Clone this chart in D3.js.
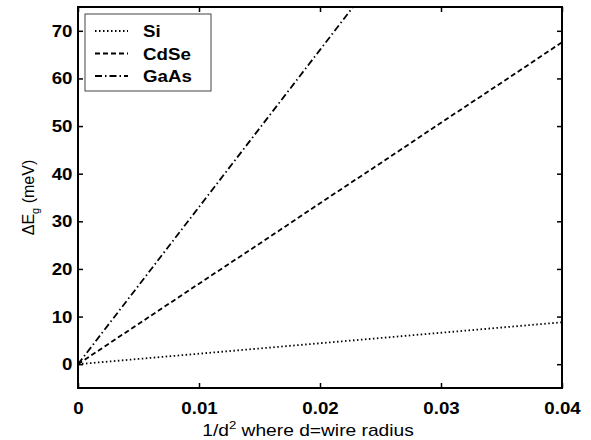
<!DOCTYPE html>
<html lang="en">
  <head>
    <meta charset="utf-8">
    <title>Band gap shift vs 1/d^2</title>
    <script src="https://d3js.org/d3.v7.min.js"></script>
    <style type="text/css">
      body, html {
        margin: 0;
        padding: 0;
        background: #fff;
        font-family: "Liberation Sans", Arial, sans-serif;
      }
      .tick text { font-weight: bold; font-size: 17px; }
    </style>
  </head>
  <body>
    <script type="text/javascript">
      var w = 591, h = 440;
      var margin = { top: 7, right: 29, bottom: 52, left: 78 };
      var width = w - margin.left - margin.right;
      var height = h - margin.top - margin.bottom;

      // data
      var xValues = [0, 0.005, 0.01, 0.015, 0.02, 0.025, 0.03, 0.035, 0.04];
      var siValues = [0, 1.1, 2.2, 3.3, 4.4, 5.5, 6.6, 7.7, 8.8];
      var cdseValues = [0, 8.45, 16.9, 25.3, 33.8, 42.2, 50.7, 59.1, 67.6];
      var gaasValues = [0, 16.5, 33, 49.5, 66, 82.5, 99, 115.5, 132];
      var seriesNames = ["Si", "CdSe", "GaAs"];
      var xTicks = [0, 0.01, 0.02, 0.03, 0.04];
      var yTicks = [0, 10, 20, 30, 40, 50, 60, 70];

      var dashes = ["1.5,2.5", "5,3", "7,3,1.5,3"];
      var allSeries = [siValues, cdseValues, gaasValues];

      var svg = d3.select("body").append("svg")
        .attr("width", w)
        .attr("height", h);

      var x = d3.scaleLinear().domain([0, 0.04]).range([0, width]);
      var y = d3.scaleLinear().domain([-5, 75]).range([height, 0]);

      var g = svg.append("g")
        .attr("transform", "translate(" + margin.left + "," + margin.top + ")");

      svg.append("defs").append("clipPath").attr("id", "clip")
        .append("rect").attr("width", width).attr("height", height);

      // lines
      var line = d3.line()
        .x(function(d, i) { return x(xValues[i]); })
        .y(function(d) { return y(d); });

      g.append("g").attr("clip-path", "url(#clip)")
        .selectAll("path")
        .data(allSeries)
        .enter()
        .append("path")
        .attr("d", line)
        .attr("fill", "none")
        .attr("stroke", "#000")
        .attr("stroke-width", 1.8)
        .attr("stroke-dasharray", function(d, i) { return dashes[i]; });

      // axes, ticks inward like matlab
      var fmt = function(d) { return d === 0 ? "0" : d3.format(".2f")(d); };
      g.append("g")
        .attr("transform", "translate(0," + height + ")")
        .call(d3.axisBottom(x).tickValues(xTicks).tickSize(-5).tickPadding(14).tickFormat(fmt));
      g.append("g")
        .call(d3.axisLeft(y).tickValues(yTicks).tickSize(-5).tickPadding(5));
      g.append("g")
        .call(d3.axisTop(x).tickValues(xTicks).tickSize(-5).tickFormat(""));
      g.append("g")
        .attr("transform", "translate(" + width + ",0)")
        .call(d3.axisRight(y).tickValues(yTicks).tickSize(-5).tickFormat(""));

      g.selectAll(".domain").remove();
      g.selectAll(".tick line").attr("stroke", "#000").attr("stroke-width", 1.5);
      g.selectAll(".tick text").attr("fill", "#000").attr("transform", "scale(1.1,1)");

      g.append("rect")
        .attr("width", width)
        .attr("height", height)
        .attr("fill", "none")
        .attr("stroke", "#000")
        .attr("stroke-width", 2);

      // axis labels (picture is a bit stretched sideways)
      var xl = svg.append("text")
        .attr("transform", "translate(" + (margin.left + width / 2 - 12) + ",436) scale(1.2,1)")
        .attr("text-anchor", "middle")
        .style("font-size", "16px");
      xl.append("tspan").text("1/d");
      xl.append("tspan").attr("dy", -7).style("font-size", "11px").text("2");
      xl.append("tspan").attr("dy", 7).text(" where d=wire radius");

      var yl = svg.append("text")
        .attr("transform", "translate(34," + (margin.top + height / 2) + ") rotate(-90)")
        .attr("text-anchor", "middle")
        .style("font-size", "16px");
      yl.append("tspan").text("\u0394E");
      yl.append("tspan").attr("dy", 5).style("font-size", "11px").text("g");
      yl.append("tspan").attr("dy", -5).text(" (meV)");

      // legend
      var legend = g.append("g").attr("transform", "translate(7,7)");
      legend.append("rect")
        .attr("width", 126)
        .attr("height", 77)
        .attr("fill", "#fff")
        .attr("stroke", "#444")
        .attr("stroke-width", 1);
      var items = legend.selectAll("g.item")
        .data(seriesNames)
        .enter()
        .append("g")
        .attr("transform", function(d, i) { return "translate(0," + (17 + i * 22.5) + ")"; });
      items.append("line")
        .attr("x1", 10).attr("x2", 43)
        .attr("stroke", "#000")
        .attr("stroke-width", 1.8)
        .attr("stroke-dasharray", function(d, i) { return dashes[i]; });
      items.append("text")
        .attr("transform", "translate(58,0) scale(1.1,1)")
        .attr("dy", "0.36em")
        .style("font-weight", "bold")
        .style("font-size", "17px")
        .text(function(d) { return d; });
    </script>
  </body>
</html>
